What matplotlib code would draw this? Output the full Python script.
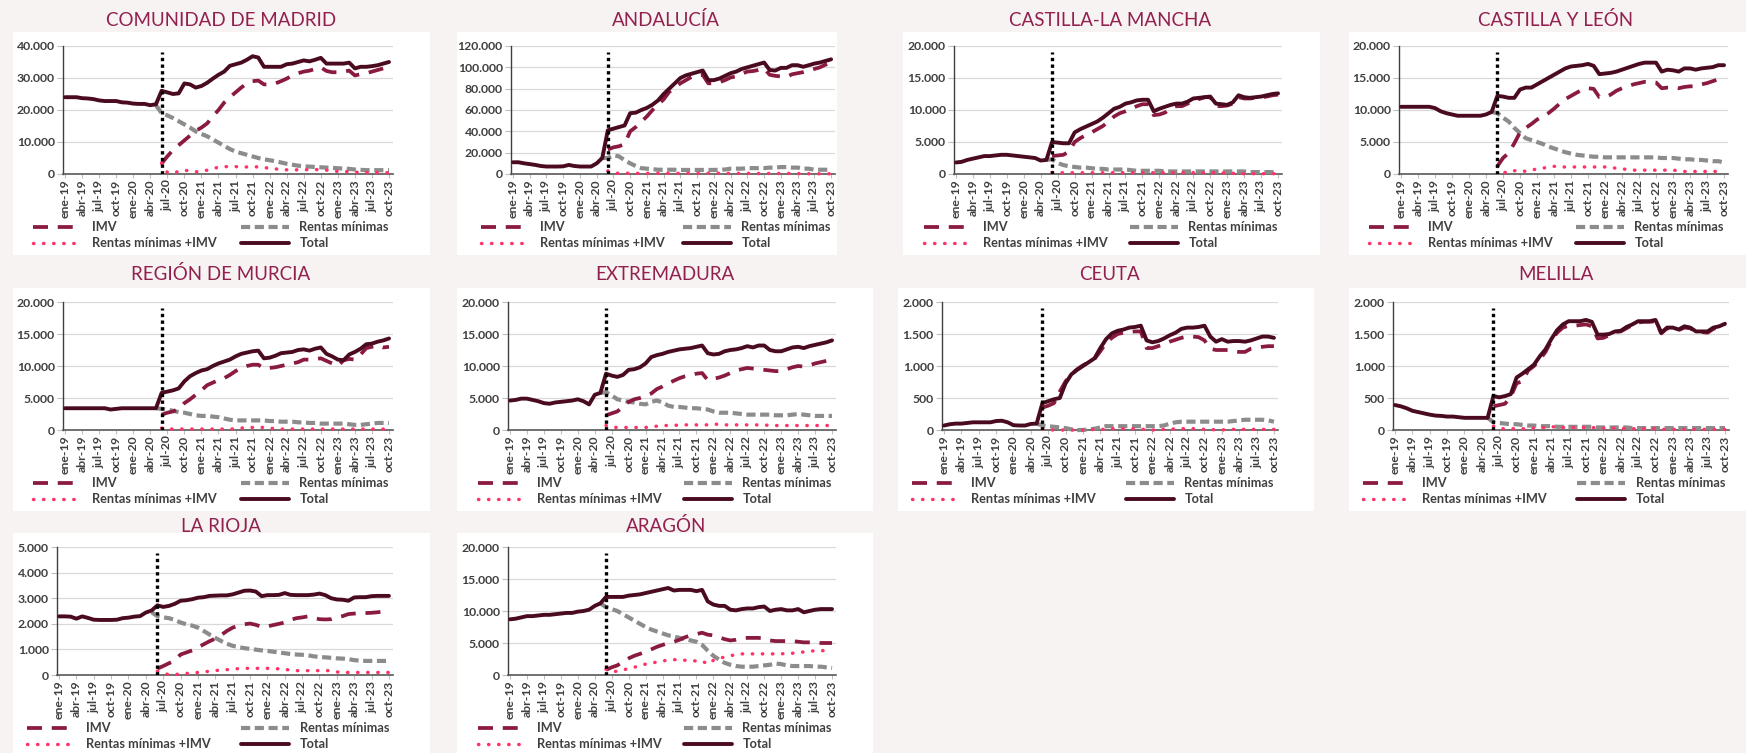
import numpy as np
import matplotlib
matplotlib.use("Agg")
import matplotlib.pyplot as plt
from matplotlib.patches import Rectangle
from matplotlib.ticker import FuncFormatter

plt.rcParams["font.family"] = ["Lato", "DejaVu Sans"]

W, H = 1746, 753
BG = "#f7f3f2"
C_IMV, C_RM, C_MIX, C_TOT = "#8b1a3f", "#8c8c8c", "#ff3366", "#4b0b1f"
TXT = "#404040"
C_TITLE = "#92204f"

MESES = ["ene", "feb", "mar", "abr", "may", "jun", "jul", "ago", "sep", "oct", "nov", "dic"]
meses = [f"{m}-{a}" for a in range(19, 24) for m in MESES][:58]   # ene-19 .. oct-23
IMV_START = meses.index("jun-20")

# --- data: Total from ene-19, Rentas minimas from may-20, IMV and mix from jun-20 ---
madrid_total = [24000, 24000, 24000, 23700, 23600, 23400, 23000, 22800, 22800, 22800,
                22400, 22300, 22000, 21900, 21900, 21500, 21800, 26000, 25500, 25000,
                25200, 28300, 28000, 27000, 27500, 28500, 29800, 31000, 32000, 33800,
                34300, 34800, 35700, 36800, 36400, 33500, 33500, 33500, 33500, 34300,
                34500, 35000, 35500, 35200, 35700, 36300, 34500, 34500, 34500, 34500,
                34800, 33000, 33500, 33500, 33700, 34000, 34500, 35000]
madrid_imv = [3300, 5500, 7500,
              9000, 10500, 12000, 13500, 14500, 15800, 18000, 20000, 22300, 24000,
              25500, 27000, 28300, 29000, 29200, 28000, 28000, 28300, 29000, 29800,
              30800, 31500, 32000, 32300, 32800, 33300, 32200, 31800, 31800, 32000,
              32300, 30800, 31200, 31500, 32000, 32500, 33000, 33700]
madrid_rm = [21500, 19000, 18300, 17500,
             16500, 15500, 14500, 13300, 12500, 11800, 10800, 9800, 8800, 7800,
             7000, 6500, 6000, 5500, 5000, 4600, 4300, 4000, 3600, 3200,
             2900, 2600, 2400, 2300, 2200, 2100, 2000, 1900, 1800, 1700,
             1600, 1400, 1300, 1200, 1200, 1200, 1200, 1200]
madrid_mix = [3300, 500, 300,
              800, 1200, 900, 700, 800, 1200, 1700, 2100, 2300, 2300,
              2300, 2200, 2200, 2300, 2200, 2000, 1800, 1600, 1400, 1300,
              1300, 1300, 1300, 1400, 1400, 1300, 1200, 1000, 800, 800,
              700, 600, 500, 500, 400, 400, 400, 400]

andalucia_total = [11000, 11000, 10000, 9300, 8500, 7500, 7000, 7000, 7000, 7200,
                   8500, 7500, 7000, 7000, 7000, 10000, 15000, 41000, 42500, 44000,
                   45500, 57000, 57500, 60000, 62000, 65000, 69000, 75000, 80000, 85000,
                   90000, 92500, 94000, 95500, 97000, 88000, 88000, 89500, 92000, 94500,
                   96000, 98500, 100000, 101500, 103000, 104500, 97500, 97000, 99500, 99500,
                   102000, 102000, 100500, 102000, 103500, 104500, 106000, 107500]
andalucia_imv = [23000, 25000, 26000,
                 28000, 40000, 44000, 49000, 54000, 60000, 65000, 70000, 77000, 81000,
                 85000, 88000, 91000, 92500, 93000, 85000, 85000, 86000, 88000, 90500,
                 91500, 94000, 96000, 96500, 97500, 99000, 93000, 92000, 91500, 91000,
                 93500, 94500, 95500, 97000, 98500, 100000, 102500, 104500]
andalucia_rm = [15000, 15000, 17500, 16500,
                13000, 10000, 7500, 5500, 5000, 4500, 4000, 4000, 4000, 4000,
                3800, 3800, 3800, 3800, 3800, 3800, 3800, 4000, 4200, 5000,
                5000, 5000, 5500, 5500, 5500, 5500, 6000, 6000, 6500, 6500,
                6000, 6000, 5000, 5000, 4000, 4000, 4000, 4000]
andalucia_mix = [3000, 800, 700,
                 700, 700, 600, 600, 600, 600, 600, 600, 600, 600,
                 600, 600, 600, 600, 600, 700, 700, 700, 600, 600,
                 600, 600, 600, 500, 500, 500, 500, 500, 500, 500,
                 500, 400, 300, 300, 300, 200, 200, 200]

clm_total = [1800, 1900, 2200, 2400, 2600, 2800, 2800, 2900, 3000, 3000,
             2900, 2800, 2700, 2600, 2500, 2100, 2200, 5000, 4900, 4800,
             4800, 6500, 7000, 7400, 7800, 8200, 8800, 9500, 10200, 10500,
             11000, 11200, 11500, 11600, 11600, 9800, 10200, 10500, 10800, 11000,
             11000, 11300, 11800, 11900, 12000, 12100, 11000, 10900, 10800, 11200,
             12300, 12000, 11900, 12000, 12100, 12300, 12500, 12600]
clm_imv = [2800, 2900, 3000,
           3500, 5000, 5600, 6100, 6500, 7000, 7500, 8200, 9000, 9500,
           9800, 10200, 10600, 10900, 10900, 9200, 9300, 9600, 10300, 10600,
           10600, 11000, 11500, 11700, 12000, 12000, 10600, 10600, 10700, 11000,
           12000, 11800, 11800, 11900, 12000, 12100, 12300, 12400]
clm_rm = [2200, 2300, 1700, 1400,
          1200, 1100, 1000, 1000, 900, 800, 800, 700, 700, 700,
          700, 600, 500, 500, 500, 500, 500, 400, 400, 400,
          400, 400, 400, 400, 400, 400, 400, 400, 400, 400,
          400, 400, 300, 300, 300, 300, 300, 300]
clm_mix = [250, 200, 200,
           200, 200, 200, 200, 200, 200, 200, 200, 200, 200,
           200, 200, 200, 200, 200, 200, 200, 200, 200, 200,
           200, 200, 200, 200, 200, 200, 200, 200, 100, 100,
           50, 50, 50, 50, 50, 50, 50, 50]

cyl_total = [10500, 10500, 10500, 10500, 10500, 10500, 10300, 9800, 9500, 9300,
             9100, 9100, 9100, 9100, 9100, 9300, 9700, 12200, 12100, 11900,
             11900, 13200, 13500, 13500, 14000, 14500, 15000, 15500, 16000, 16500,
             16800, 16900, 17000, 17200, 16900, 15600, 15700, 15800, 16000, 16300,
             16600, 16900, 17200, 17400, 17400, 17400, 16000, 16300, 16200, 16000,
             16500, 16500, 16300, 16500, 16600, 16700, 17000, 17000]
cyl_imv = [1200, 2500, 3300,
           4800, 6500, 7200, 7800, 8500, 9000, 9500, 10200, 11000, 11700,
           12200, 12700, 13200, 13400, 13300, 12000, 12000, 12400, 13000, 13400,
           13700, 14000, 14200, 14400, 14400, 14300, 13400, 13500, 13500, 13400,
           13600, 13700, 13700, 14000, 14200, 14500, 14800, 15000]
cyl_rm = [9700, 9500, 8800, 8200,
          7200, 6400, 5600, 5300, 5000, 4700, 4300, 4000, 3700, 3400,
          3200, 3000, 2900, 2800, 2700, 2700, 2600, 2600, 2600, 2600,
          2600, 2600, 2600, 2600, 2600, 2600, 2500, 2500, 2500, 2400,
          2300, 2300, 2200, 2200, 2100, 2000, 2000, 1800]
cyl_mix = [1200, 300, 150,
           500, 600, 400, 600, 800, 900, 1100, 1200, 1100, 1100,
           1100, 1100, 1100, 1100, 1100, 1100, 1100, 1000, 900, 800,
           700, 600, 600, 600, 600, 600, 600, 600, 600, 500,
           400, 400, 400, 400, 400, 400, 400, 400]

murcia_total = [3400, 3400, 3400, 3400, 3400, 3400, 3400, 3400, 3200, 3300,
                3400, 3400, 3400, 3400, 3400, 3400, 3400, 5800, 6000, 6200,
                6500, 7600, 8400, 8900, 9300, 9500, 10000, 10400, 10700, 11000,
                11500, 11900, 12100, 12300, 12400, 11200, 11300, 11600, 12000, 12100,
                12200, 12500, 12600, 12400, 12700, 12900, 11900, 11500, 11000, 10900,
                11800, 12200, 12700, 13400, 13500, 13800, 14000, 14300]
murcia_imv = [2400, 2700, 2900,
              3300, 4200, 4800, 5500, 6200, 7000, 7400, 7800, 8100, 8600,
              9200, 9700, 10000, 10200, 10200, 9600, 9700, 9800, 10000, 10200,
              10400, 10600, 11000, 11000, 11100, 11200, 10800, 10400, 10000, 10900,
              11100, 11000, 11800, 12800, 13000, 13200, 12900, 13000]
murcia_rm = [3400, 3300, 3200, 3000,
             2800, 2700, 2500, 2300, 2200, 2200, 2100, 2000, 1800, 1600,
             1500, 1500, 1500, 1500, 1500, 1500, 1400, 1400, 1300, 1300,
             1300, 1200, 1200, 1100, 1100, 1000, 1000, 1000, 1000, 1000,
             900, 800, 800, 900, 1000, 1100, 1100, 1100]
murcia_mix = [300, 150, 150,
              150, 150, 150, 150, 150, 150, 150, 150, 150, 150,
              200, 300, 400, 400, 400, 400, 300, 200, 150, 150,
              150, 150, 150, 150, 150, 150, 150, 150, 150, 150,
              150, 150, 150, 150, 150, 150, 150, 150]

extremadura_total = [4600, 4700, 4900, 4900, 4700, 4500, 4200, 4100, 4300, 4400,
                     4500, 4600, 4800, 4500, 4000, 5500, 5800, 8800, 8500, 8300,
                     8600, 9400, 9500, 9800, 10400, 11400, 11700, 11900, 12200, 12400,
                     12600, 12700, 12800, 13000, 13200, 12000, 11800, 11900, 12300, 12500,
                     12600, 12800, 13100, 12900, 13200, 13200, 12500, 12300, 12300, 12600,
                     12900, 13000, 12800, 13100, 13300, 13500, 13700, 14000]
extremadura_imv = [2300, 2600, 2900,
                   3600, 4400, 4800, 5000, 5300, 5700, 6400, 6800, 7300, 7700,
                   8100, 8400, 8600, 8800, 8900, 7800, 8000, 8200, 8500, 8900,
                   9300, 9500, 9700, 9600, 9500, 9400, 9300, 9200, 9200, 9500,
                   9800, 10000, 9900, 10100, 10400, 10600, 10800, 11000]
extremadura_rm = [5800, 5900, 5400, 4800,
                  4600, 4400, 4300, 4100, 4000, 4400, 4600, 4300, 3800, 3600,
                  3600, 3500, 3400, 3400, 3300, 3200, 2900, 2700, 2700, 2700,
                  2600, 2500, 2400, 2400, 2400, 2400, 2400, 2300, 2300, 2300,
                  2400, 2500, 2400, 2300, 2200, 2200, 2200, 2200]
extremadura_mix = [700, 400, 400,
                   400, 400, 400, 400, 400, 500, 600, 700, 700, 700,
                   800, 800, 800, 800, 800, 800, 900, 900, 800, 800,
                   800, 800, 800, 800, 800, 800, 700, 700, 700, 700,
                   700, 700, 700, 700, 700, 700, 700, 700]

ceuta_total = [70, 90, 100, 100, 110, 120, 120, 120, 120, 140,
               145, 120, 75, 70, 70, 95, 100, 420, 450, 480,
               500, 730, 870, 940, 1000, 1060, 1120, 1280, 1420, 1510,
               1550, 1570, 1600, 1610, 1630, 1400, 1370, 1390, 1430, 1480,
               1520, 1580, 1600, 1600, 1610, 1630, 1460, 1380, 1420, 1380,
               1390, 1390, 1380, 1400, 1430, 1460, 1460, 1440]
ceuta_imv = [350, 380, 420,
             600, 760, 870, 950, 1010, 1060, 1110, 1230, 1360, 1440,
             1500, 1520, 1530, 1540, 1540, 1280, 1280, 1310, 1340, 1380,
             1410, 1440, 1460, 1460, 1450, 1400, 1270, 1250, 1250, 1250,
             1230, 1220, 1220, 1270, 1290, 1300, 1310, 1310]
ceuta_rm = [100, 70, 60, 50,
            40, 30, 10, 0, 0, 10, 20, 40, 60, 60,
            60, 60, 60, 60, 60, 60, 60, 60, 70, 100,
            120, 130, 130, 130, 130, 130, 130, 130, 130, 130,
            140, 150, 160, 160, 160, 160, 150, 130]
ceuta_mix = [20, 5, 0,
             0, 0, 0, 0, 0, 0, 10, 10, 10, 20,
             20, 20, 20, 20, 10, 10, 0, 0, 10, 10,
             20, 20, 20, 20, 20, 10, 10, 0, 0, 10,
             10, 10, 10, 10, 10, 10, 10, 10]

melilla_total = [390, 370, 340, 300, 280, 260, 240, 225, 220, 210,
                 210, 200, 190, 190, 190, 190, 190, 530, 510, 530,
                 560, 820, 880, 950, 1020, 1150, 1260, 1420, 1560, 1650,
                 1700, 1700, 1700, 1720, 1690, 1490, 1490, 1500, 1540, 1550,
                 1610, 1650, 1700, 1700, 1700, 1720, 1520, 1600, 1600, 1570,
                 1620, 1600, 1540, 1540, 1540, 1600, 1620, 1660]
melilla_imv = [370, 390, 410,
               520, 730, 760, 930, 1000, 1100, 1220, 1400, 1520, 1600,
               1630, 1630, 1640, 1650, 1620, 1430, 1440, 1480, 1530, 1540,
               1590, 1640, 1680, 1690, 1690, 1700, 1510, 1590, 1580, 1560,
               1600, 1590, 1530, 1530, 1520, 1580, 1610, 1650]
melilla_rm = [190, 120, 110, 100,
              90, 90, 80, 70, 70, 60, 60, 60, 50, 50,
              50, 50, 50, 50, 50, 40, 40, 40, 40, 40,
              40, 30, 30, 30, 30, 30, 30, 30, 30, 30,
              30, 30, 30, 30, 30, 30, 30, 30]
melilla_mix = [60, 20, 20,
               20, 20, 20, 20, 30, 30, 40, 50, 50, 40,
               40, 40, 40, 40, 40, 30, 30, 30, 30, 30,
               20, 20, 20, 20, 20, 20, 10, 10, 10, 10,
               10, 10, 10, 10, 10, 10, 10, 10]

rioja_total = [2290, 2290, 2280, 2200, 2290, 2230, 2160, 2150, 2150, 2150,
               2160, 2220, 2240, 2280, 2300, 2440, 2520, 2720, 2660, 2700,
               2780, 2900, 2920, 2960, 3020, 3040, 3090, 3100, 3110, 3110,
               3150, 3220, 3290, 3300, 3260, 3080, 3120, 3120, 3130, 3200,
               3130, 3120, 3120, 3120, 3140, 3180, 3120, 3000, 2950, 2940,
               2900, 3030, 3040, 3040, 3080, 3090, 3090, 3090]
rioja_imv = [250, 350, 460,
             560, 800, 880, 960, 1080, 1200, 1320, 1420, 1560, 1720,
             1850, 1930, 1980, 2010, 1960, 1880, 1900, 1950, 2000, 2050,
             2150, 2220, 2250, 2290, 2230, 2180, 2170, 2180, 2250, 2300,
             2380, 2400, 2410, 2420, 2430, 2450, 2480, 2520]
rioja_rm = [2450, 2300, 2250, 2220,
            2150, 2050, 1980, 1930, 1850, 1720, 1580, 1450, 1330, 1220,
            1140, 1090, 1050, 1020, 990, 960, 940, 910, 880, 850,
            820, 800, 790, 770, 730, 700, 690, 670, 650, 640,
            620, 580, 560, 550, 550, 550, 550, 550]
rioja_mix = [150, 60, 20,
             20, 40, 60, 80, 100, 120, 150, 170, 200, 210,
             220, 250, 260, 260, 260, 260, 260, 250, 240, 230,
             180, 170, 170, 170, 170, 170, 170, 170, 120, 100,
             100, 100, 100, 100, 100, 100, 100, 100]

aragon_total = [8700, 8800, 9000, 9200, 9200, 9300, 9400, 9400, 9500, 9600,
                9700, 9700, 9900, 10000, 10200, 10800, 11200, 12200, 12200, 12200,
                12200, 12400, 12500, 12600, 12800, 13000, 13200, 13400, 13600, 13200,
                13300, 13300, 13300, 13100, 13300, 11500, 11000, 10800, 10800, 10200,
                10100, 10300, 10400, 10400, 10600, 10700, 10000, 10200, 10300, 10100,
                10100, 10300, 9800, 10000, 10200, 10300, 10300, 10300]
aragon_imv = [800, 1200, 1500,
              2100, 2600, 3000, 3300, 3600, 4000, 4400, 4700, 5000, 5200,
              5500, 5900, 6200, 6400, 6600, 6300, 6200, 5900, 5600, 5400,
              5500, 5700, 5800, 5800, 5800, 5700, 5400, 5300, 5300, 5300,
              5300, 5200, 5100, 5100, 5100, 5000, 5000, 5000]
aragon_rm = [11200, 10600, 10300, 10000,
             9500, 9000, 8500, 8000, 7500, 7100, 6800, 6500, 6200, 6000,
             5800, 5600, 5400, 5200, 4700, 3800, 3000, 2400, 1900, 1600,
             1400, 1300, 1300, 1300, 1400, 1500, 1600, 1800, 1700, 1500,
             1400, 1400, 1400, 1400, 1300, 1300, 1200, 1100]
aragon_mix = [900, 500, 600,
              800, 1000, 1200, 1500, 1700, 1900, 2000, 2200, 2300, 2400,
              2400, 2300, 2200, 2200, 2200, 1700, 2300, 2600, 2800, 3000,
              3200, 3300, 3300, 3300, 3300, 3300, 3300, 3300, 3300, 3400,
              3400, 3500, 3600, 3700, 3800, 3800, 3800, 3800]

paneles = [
    ("COMUNIDAD DE MADRID", madrid_total, madrid_imv, madrid_rm, madrid_mix, 40000, 10000),
    ("ANDALUCÍA", andalucia_total, andalucia_imv, andalucia_rm, andalucia_mix, 120000, 20000),
    ("CASTILLA-LA MANCHA", clm_total, clm_imv, clm_rm, clm_mix, 20000, 5000),
    ("CASTILLA Y LEÓN", cyl_total, cyl_imv, cyl_rm, cyl_mix, 20000, 5000),
    ("REGIÓN DE MURCIA", murcia_total, murcia_imv, murcia_rm, murcia_mix, 20000, 5000),
    ("EXTREMADURA", extremadura_total, extremadura_imv, extremadura_rm, extremadura_mix, 20000, 5000),
    ("CEUTA", ceuta_total, ceuta_imv, ceuta_rm, ceuta_mix, 2000, 500),
    ("MELILLA", melilla_total, melilla_imv, melilla_rm, melilla_mix, 2000, 500),
    ("LA RIOJA", rioja_total, rioja_imv, rioja_rm, rioja_mix, 5000, 1000),
    ("ARAGÓN", aragon_total, aragon_imv, aragon_rm, aragon_mix, 20000, 5000),
]

# layout in pixels: white card (l, t, r, b), plot area (l, t, r, b), title centre
layout = [
    ((13, 32, 430, 255), (63, 46, 393, 174), (221, 20)),
    ((457, 32, 837, 255), (511, 46, 835, 174), (666, 20)),
    ((903, 32, 1320, 255), (954, 46, 1282, 174), (1110, 20)),
    ((1349, 32, 1746, 255), (1399, 46, 1728, 174), (1556, 20)),
    ((13, 288, 430, 511), (63, 302, 393, 430), (221, 274)),
    ((457, 288, 873, 511), (508, 302, 836, 430), (665, 274)),
    ((898, 288, 1314, 511), (942, 302, 1278, 430), (1110, 274)),
    ((1349, 288, 1746, 511), (1393, 302, 1729, 430), (1556, 274)),
    ((13, 533, 430, 753), (57, 547, 393, 675), (221, 526)),
    ((457, 533, 873, 753), (508, 547, 836, 675), (666, 526)),
]

fmt = FuncFormatter(lambda v, _: f"{v:,.0f}".replace(",", "."))

fig = plt.figure(figsize=(W / 100, H / 100), dpi=100, facecolor=BG)

for (name, tot, imv, rm, mix, ymax, step), (card, area, tpos) in zip(paneles, layout):
    cl, ct, cr, cb = card
    fig.patches.append(Rectangle((cl / W, 1 - cb / H), (cr - cl) / W, (cb - ct) / H,
                                 transform=fig.transFigure, facecolor="white",
                                 edgecolor="none", zorder=-1))
    fig.text(tpos[0] / W, 1 - tpos[1] / H, name, ha="center", va="center",
             fontsize=13.5, color=C_TITLE)

    al, at, ar, ab = area
    wpx, hpx = ar - al, ab - at
    ax = fig.add_axes([al / W, 1 - ab / H, wpx / W, hpx / H])
    ax.set_facecolor("none")

    def xs(s):
        return np.arange(len(meses) - len(s), len(meses))

    l_rm, = ax.plot(xs(rm), rm, color=C_RM, lw=3.0, ls=(0, (2.2, 1.1)), zorder=3, clip_on=False)
    l_imv, = ax.plot(xs(imv), imv, color=C_IMV, lw=2.7, ls=(0, (4.0, 2.6)), zorder=4, clip_on=False)
    l_mix, = ax.plot(xs(mix), mix, color=C_MIX, lw=2.5, ls=(0, (0.1, 2.8)),
                     dash_capstyle="round", zorder=5, clip_on=False)
    l_tot, = ax.plot(xs(tot), tot, color=C_TOT, lw=2.8, solid_capstyle="round",
                     solid_joinstyle="round", zorder=6, clip_on=False)
    ax.axvline(IMV_START, 0, 0.955, color="black", lw=2.4, ls=(0, (1, 1)), zorder=7)

    ax.set_xlim(-0.35, len(meses) - 0.3)
    ax.set_ylim(0, ymax)
    ax.set_yticks(np.arange(0, ymax + 1, step))
    ax.yaxis.set_major_formatter(fmt)
    ax.set_xticks(range(0, len(meses), 3))
    ax.set_xticklabels(meses[::3], rotation=90)
    for lab in ax.get_xticklabels() + ax.get_yticklabels():
        lab.set_fontweight("bold")
    ax.tick_params(axis="both", labelsize=8.8, labelcolor=TXT, color="#bfbfbf")
    ax.tick_params(axis="y", length=4, width=0.8, pad=2)
    ax.tick_params(axis="x", length=3, width=0.8, pad=1)

    ax.yaxis.grid(True, color="#d9d9d9", lw=0.9)
    ax.set_axisbelow(True)
    for side in ("top", "right"):
        ax.spines[side].set_visible(False)
    ax.spines["left"].set_color("#404040")
    ax.spines["left"].set_linewidth(1.0)
    ax.spines["bottom"].set_color("#595959")
    ax.spines["bottom"].set_linewidth(1.2)

    x0 = -30 / wpx
    ax.legend([l_imv, l_mix, l_rm, l_tot],
              ["IMV", "Rentas mínimas +IMV", "Rentas mínimas", "Total"],
              ncol=2, mode="expand", loc="upper left",
              bbox_to_anchor=(x0, -47 / hpx, (wpx + 26) / wpx, 0),
              borderaxespad=0, borderpad=0, frameon=False,
              handlelength=3.8, handletextpad=0.8, labelspacing=0.35,
              prop=dict(weight="bold", size=9.2), labelcolor=TXT)

fig.savefig("out.png", dpi=100, facecolor=BG)
